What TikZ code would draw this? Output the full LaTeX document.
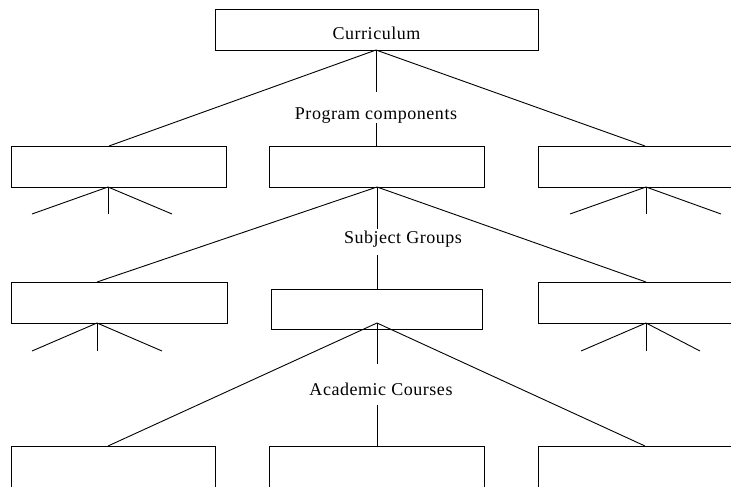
\documentclass[tikz,border=0pt]{standalone}
\usepackage{fontspec}
\setmainfont{Liberation Serif}
\begin{document}
\begin{tikzpicture}[x=1pt,y=-1pt,line width=0.9pt,
  box/.style={draw,rectangle,inner sep=0pt,anchor=north west},
  lab/.style={inner sep=0pt,font=\fontsize{18}{20}\selectfont\addfontfeature{LetterSpace=3}}]
\clip (0,0) rectangle (731,487);
% boxes
\node[box,minimum width=323pt,minimum height=41pt] (cur) at (215,9) {};
\node[lab] (curt) at (376.5,33) {Curriculum};
\node[box,minimum width=215pt,minimum height=41pt] (p1) at (11,146) {};
\node[box,minimum width=215pt,minimum height=41pt] (p2) at (269,146) {};
\node[box,minimum width=215pt,minimum height=41pt] (p3) at (538,146) {};
\node[box,minimum width=216pt,minimum height=41pt] (s1) at (11,282) {};
\node[box,minimum width=211pt,minimum height=40pt] (s2) at (271,289) {};
\node[box,minimum width=215pt,minimum height=41pt] (s3) at (538,282) {};
\node[box,minimum width=204pt,minimum height=60pt] (a1) at (11,446) {};
\node[box,minimum width=215pt,minimum height=60pt] (a2) at (269,446) {};
\node[box,minimum width=215pt,minimum height=60pt] (a3) at (538,446) {};
% labels
\node[lab] (pc) at (376,116) {Program components};
\node[lab] (sg) at (403,239) {Subject Groups};
\node[lab] (ac) at (381,389) {Academic Courses};
% coordinates
\coordinate (c0) at (376,50);
\coordinate (c1) at (376,92);
\coordinate (c2) at (376,123);
\coordinate (p1t) at (109,146);
\coordinate (p2t) at (376,146);
\coordinate (p3t) at (645,146);
\coordinate (p1b) at (108,187);
\coordinate (p2b) at (377,187);
\coordinate (p3b) at (646,187);
\coordinate (p1l) at (32,214);
\coordinate (p1m) at (108,214);
\coordinate (p1r) at (172,214);
\coordinate (p3l) at (570,214);
\coordinate (p3m) at (646,214);
\coordinate (p3r) at (721,214);
\coordinate (m1) at (377,229);
\coordinate (m2) at (377,255);
\coordinate (s1t) at (97,282);
\coordinate (s2t) at (377,289);
\coordinate (s3t) at (646,282);
\coordinate (s1b) at (97,323);
\coordinate (s2b) at (377,323);
\coordinate (s3b) at (646,323);
\coordinate (s1l) at (32,351);
\coordinate (s1m) at (97,351);
\coordinate (s1r) at (162,351);
\coordinate (s3l) at (581,351);
\coordinate (s3m) at (646,351);
\coordinate (s3r) at (700,351);
\coordinate (n1) at (377,364);
\coordinate (n2) at (377,405);
\coordinate (a1t) at (108,446);
\coordinate (a2t) at (377,446);
\coordinate (a3t) at (645,446);
% connectors
\draw (p1t) -- (c0) -- (p3t);
\draw (c0) -- (c1);
\draw (c2) -- (p2t);
\draw (p1l) -- (p1b) -- (p1r); \draw (p1b) -- (p1m);
\draw (p3l) -- (p3b) -- (p3r); \draw (p3b) -- (p3m);
\draw (s1t) -- (p2b) -- (s3t);
\draw (p2b) -- (m1);
\draw (m2) -- (s2t);
\draw (s1l) -- (s1b) -- (s1r); \draw (s1b) -- (s1m);
\draw (s3l) -- (s3b) -- (s3r); \draw (s3b) -- (s3m);
\draw (a1t) -- (s2b) -- (a3t);
\draw (s2b) -- (n1);
\draw (n2) -- (a2t);
\end{tikzpicture}
\end{document}
